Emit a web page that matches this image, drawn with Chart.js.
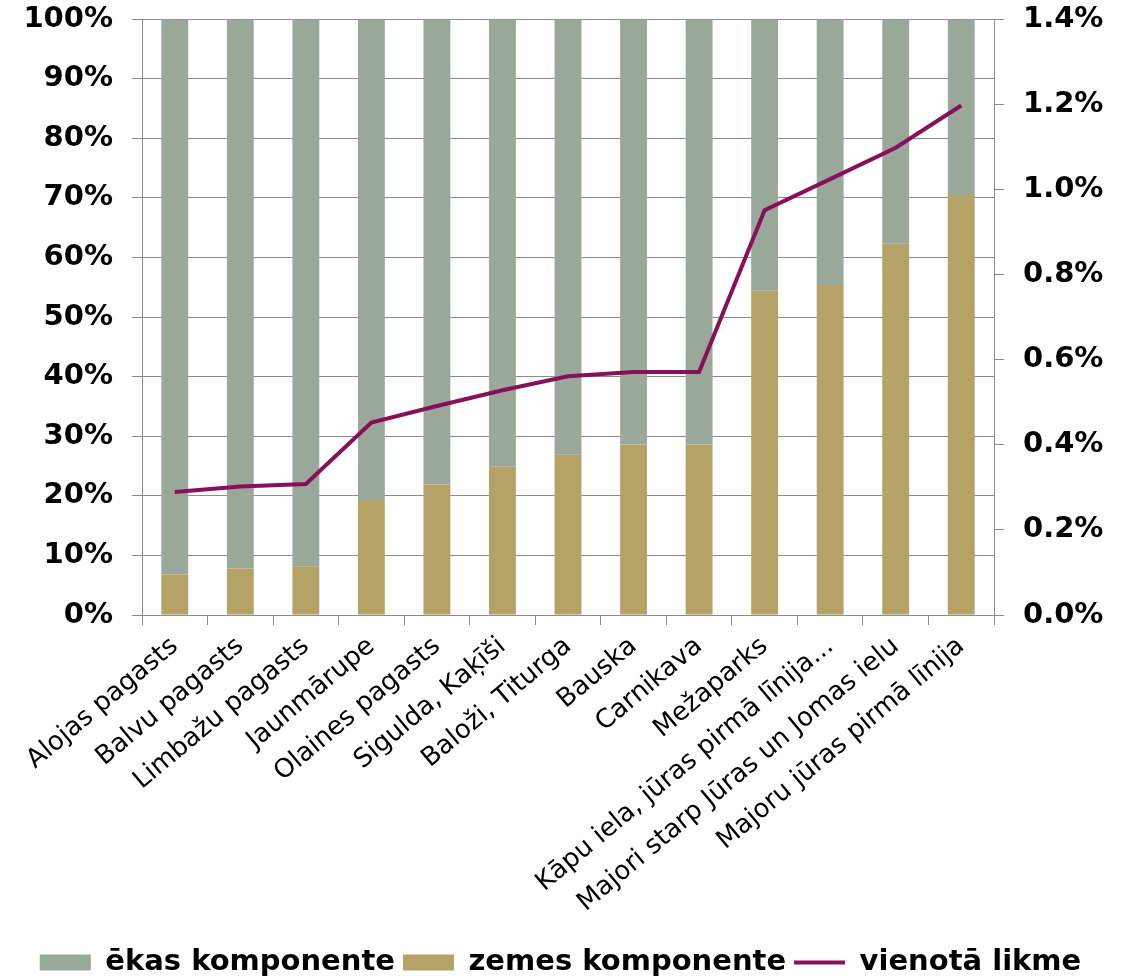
<!DOCTYPE html>
<html>
<head>
<meta charset="utf-8">
<script src="https://cdn.jsdelivr.net/npm/chart.js@4/dist/chart.umd.min.js"></script>
<style>
  html, body { margin: 0; padding: 0; background: #fff; }
</style>
</head>
<body>
<canvas id="rateChart" width="1121" height="979"></canvas>
<script>
const labels = ['Alojas pagasts', 'Balvu pagasts', 'Limbažu pagasts', 'Jaunmārupe', 'Olaines pagasts',
    'Sigulda, Kaķīši', 'Baloži, Titurga', 'Bauska', 'Carnikava', 'Mežaparks',
    'Kāpu iela, jūras pirmā līnija...', 'Majori starp Jūras un Jomas ielu', 'Majoru jūras pirmā līnija'];

// share of land component, % of the rate
const zemes = [6.8, 7.8, 8.2, 19.3, 21.9, 24.9, 26.9, 28.6, 28.6, 54.4, 55.4, 62.3, 70.5];
// share of building component, %
const ekas = [93.2, 92.2, 91.8, 80.7, 78.1, 75.1, 73.1, 71.4, 71.4, 45.6, 44.6, 37.7, 29.5];
// single tax rate, %
const likme = [0.289, 0.302, 0.308, 0.452, 0.491, 0.528, 0.561, 0.571, 0.571, 0.951, 1.024, 1.098, 1.197];

const leftTicks = [0, 10, 20, 30, 40, 50, 60, 70, 80, 90, 100];
const rightTicks = [0, 0.2, 0.4, 0.6, 0.8, 1.0, 1.2, 1.4];

// legend order differs from stacking order (land is at the bottom of the stack)
const legendOrder = [1, 0, 2];

// tiny lineHeight keeps the axis from reserving extra room above the plot
const tickFont = { family: 'DejaVu Sans', size: 29, weight: 'bold', lineHeight: 0.01 };
const gridColor = '#8c8c8c';

const ctx = document.getElementById('rateChart');
new Chart(ctx, {
    type: 'bar',
    data: {
        labels: labels,
        datasets: [{
            label: 'zemes komponente',
            data: zemes,
            backgroundColor: '#b4a267',
            order: 1,
            stack: 's',
            yAxisID: 'y'
        }, {
            label: 'ēkas komponente',
            data: ekas,
            backgroundColor: '#99a899',
            order: 1,
            stack: 's',
            yAxisID: 'y'
        }, {
            type: 'line',
            label: 'vienotā likme',
            data: likme,
            borderColor: '#870f5b',
            backgroundColor: '#870f5b',
            borderWidth: 4,
            pointRadius: 0,
            tension: 0,
            order: 0,
            yAxisID: 'y1'
        }]
    },
    options: {
        responsive: false,
        animation: false,
        devicePixelRatio: 1,
        layout: { padding: { top: 19, left: 0, right: 0, bottom: -8 } },
        datasets: {
            bar: { categoryPercentage: 1, barPercentage: 0.41 }
        },
        plugins: {
            tooltip: { enabled: false },
            legend: {
                position: 'bottom',
                labels: {
                    usePointStyle: true,
                    pointStyleWidth: 51,
                    boxHeight: 16,
                    padding: 8,
                    color: '#000',
                    font: { family: 'DejaVu Sans', size: 29, weight: 'bold', lineHeight: 1 },
                    generateLabels: function(chart) {
                        return legendOrder.map(function(i) {
                            const ds = chart.data.datasets[i];
                            const isLine = ds.type === 'line';
                            return {
                                text: ds.label,
                                datasetIndex: i,
                                fillStyle: ds.backgroundColor,
                                strokeStyle: isLine ? ds.borderColor : ds.backgroundColor,
                                lineWidth: isLine ? 4 : 0,
                                pointStyle: isLine ? 'line' : 'rect',
                                hidden: false
                            };
                        });
                    }
                }
            }
        },
        scales: {
            x: {
                stacked: true,
                grid: {
                    drawOnChartArea: false,
                    drawTicks: true,
                    tickLength: 10,
                    color: gridColor
                },
                border: { color: gridColor },
                ticks: {
                    autoSkip: false,
                    maxRotation: 40,
                    minRotation: 40,
                    padding: 6,
                    color: '#000',
                    font: { family: 'DejaVu Sans', size: 26 }
                },
                afterFit: function(scale) { scale.height = 325; }
            },
            y: {
                stacked: true,
                position: 'left',
                min: 0,
                max: 100,
                afterBuildTicks: function(scale) {
                    scale.ticks = leftTicks.map(v => ({ value: v }));
                },
                grid: { color: gridColor, tickLength: 10 },
                border: { color: gridColor },
                ticks: {
                    padding: 19,
                    color: '#000',
                    font: tickFont,
                    callback: v => v + '%'
                },
                afterFit: function(scale) { scale.width = 142; }
            },
            y1: {
                position: 'right',
                min: 0,
                max: 1.4,
                afterBuildTicks: function(scale) {
                    scale.ticks = rightTicks.map(v => ({ value: v }));
                },
                grid: { drawOnChartArea: false, color: gridColor, tickLength: 10 },
                border: { color: gridColor },
                ticks: {
                    padding: 19,
                    color: '#000',
                    font: tickFont,
                    callback: v => v.toFixed(1) + '%'
                },
                afterFit: function(scale) { scale.width = 127; }
            }
        }
    }
});
</script>
</body>
</html>
